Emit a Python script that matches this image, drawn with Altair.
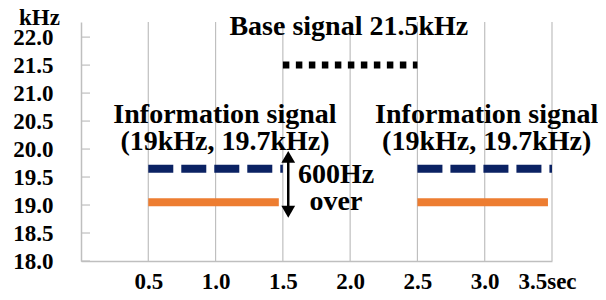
import altair as alt
import pandas as pd

# ---- data ----
x_ticks = [0.5, 1.0, 1.5, 2.0, 2.5, 3.0, 3.5]
y_ticks = [18.0, 18.5, 19.0, 19.5, 20.0, 20.5, 21.0, 21.5, 22.0]

base_start = [1.5]
base_end = [2.5]
base_freq = [21.5]

info_hi_start = [0.5, 2.5]
info_hi_end = [1.5, 3.5]
info_hi_freq = [19.65, 19.65]

info_lo_start = [0.5, 2.5]
info_lo_end = [1.47, 3.47]
info_lo_freq = [19.05, 19.05]

arrow_x = [1.54]
arrow_top = [19.86]
arrow_bottom = [18.88]

label_text = ["Base signal 21.5kHz",
              "Information signal", "(19kHz, 19.7kHz)",
              "Information signal", "(19kHz, 19.7kHz)",
              "600Hz", "over"]
label_x = [1.99, 1.07, 1.07, 3.015, 3.015, 1.895, 1.895]
label_y = [22.04, 20.46, 19.98, 20.46, 19.98, 19.39, 18.91]

FONT = "Liberation Serif"
GRID = "#BFBFBF"

xs = alt.Scale(domain=[0, 3.5], nice=False, zero=False)
ys = alt.Scale(domain=[18, 22.27], nice=False, zero=False)

AX_Y = alt.Axis(
    values=y_ticks, format=".1f", grid=False, ticks=False, labelOverlap=False,
    domainColor=GRID, domainWidth=1.5,
    labelFont=FONT, labelFontSize=23, labelFontWeight="bold", labelColor="black",
    labelPadding=28, labelBound=False,
    title="kHz", titleAngle=0, titleFont=FONT, titleFontSize=23,
    titleFontWeight="bold", titleColor="black", titleAlign="center",
    titleBaseline="alphabetic", titleX=-42, titleY=2)
AX_X = alt.Axis(
    values=x_ticks, grid=False, ticks=False, labelOverlap=False,
    domainColor=GRID, domainWidth=1.5,
    labelExpr="datum.value == 3.5 ? '3.5sec' : format(datum.value, '.1f')",
    labelOffset={"condition": {"test": "datum.value == 3.5", "value": -5}, "value": 0},
    labelFont=FONT, labelFontSize=23, labelFontWeight="bold", labelColor="black",
    labelPadding=9, labelBound=False, labelFlush=False, title=None)

base_df = pd.DataFrame({"x": base_start, "x2": base_end, "y": base_freq})
hi_df = pd.DataFrame({"x": info_hi_start, "x2": info_hi_end, "y": info_hi_freq})
lo_df = pd.DataFrame({"x": info_lo_start, "x2": info_lo_end, "y": info_lo_freq})
arrow_df = pd.DataFrame({"x": arrow_x, "top": arrow_top, "bottom": arrow_bottom})
lab_df = pd.DataFrame({"t": label_text, "x": label_x, "y": label_y})
ytick_df = pd.DataFrame({"y": y_ticks})
grid_df = pd.DataFrame({"x": x_ticks})

X = lambda f: alt.X(f, scale=xs, axis=AX_X)
Y = lambda f: alt.Y(f, scale=ys, axis=AX_Y)

axes = alt.Chart(ytick_df).mark_rule(color=GRID, strokeWidth=1.2).encode(
    x=alt.value(0), x2=alt.value(9), y=Y("y:Q"))

grid = alt.Chart(grid_df).mark_rule(color=GRID, strokeWidth=1.2).encode(
    x=X("x:Q"), y=alt.value(0), y2=alt.value(239))

base = alt.Chart(base_df).mark_rule(color="black", strokeWidth=7, strokeDash=[6.5, 6.5]).encode(
    x=X("x:Q"), x2="x2:Q", y=Y("y:Q"))
hi = alt.Chart(hi_df).mark_rule(color="#0B2263", strokeWidth=8, strokeDash=[25, 8]).encode(
    x=X("x:Q"), x2="x2:Q", y=Y("y:Q"))
lo = alt.Chart(lo_df).mark_rule(color="#ED7D31", strokeWidth=8).encode(
    x=X("x:Q"), x2="x2:Q", y=Y("y:Q"))

arrow_body = alt.Chart(arrow_df).mark_rule(color="black", strokeWidth=2.5).encode(
    x=X("x:Q"), y=Y("top:Q"), y2="bottom:Q")
arrow_up = alt.Chart(arrow_df).mark_point(shape="triangle-up", filled=True, color="black",
                                          size=190, opacity=1).encode(
    x=X("x:Q"), y=Y("top:Q"))
arrow_down = alt.Chart(arrow_df).mark_point(shape="triangle-down", filled=True, color="black",
                                            size=190, opacity=1).encode(
    x=X("x:Q"), y=Y("bottom:Q"))

labels = alt.Chart(lab_df).mark_text(font=FONT, fontSize=28, fontWeight="bold",
                                     color="black", baseline="alphabetic", align="center").encode(
    x=X("x:Q"), y=Y("y:Q"), text="t:N")

chart = alt.layer(axes, grid, lo, hi, base, arrow_body, arrow_up, arrow_down, labels).properties(
    width=471, height=239,
    autosize=alt.AutoSizeParams(type="none"),
    padding={"left": 73, "top": 14, "right": 46, "bottom": 31},
    background="white",
).configure_view(stroke=None)

chart.save("out.html", embed_options={"renderer": "svg", "actions": False})
